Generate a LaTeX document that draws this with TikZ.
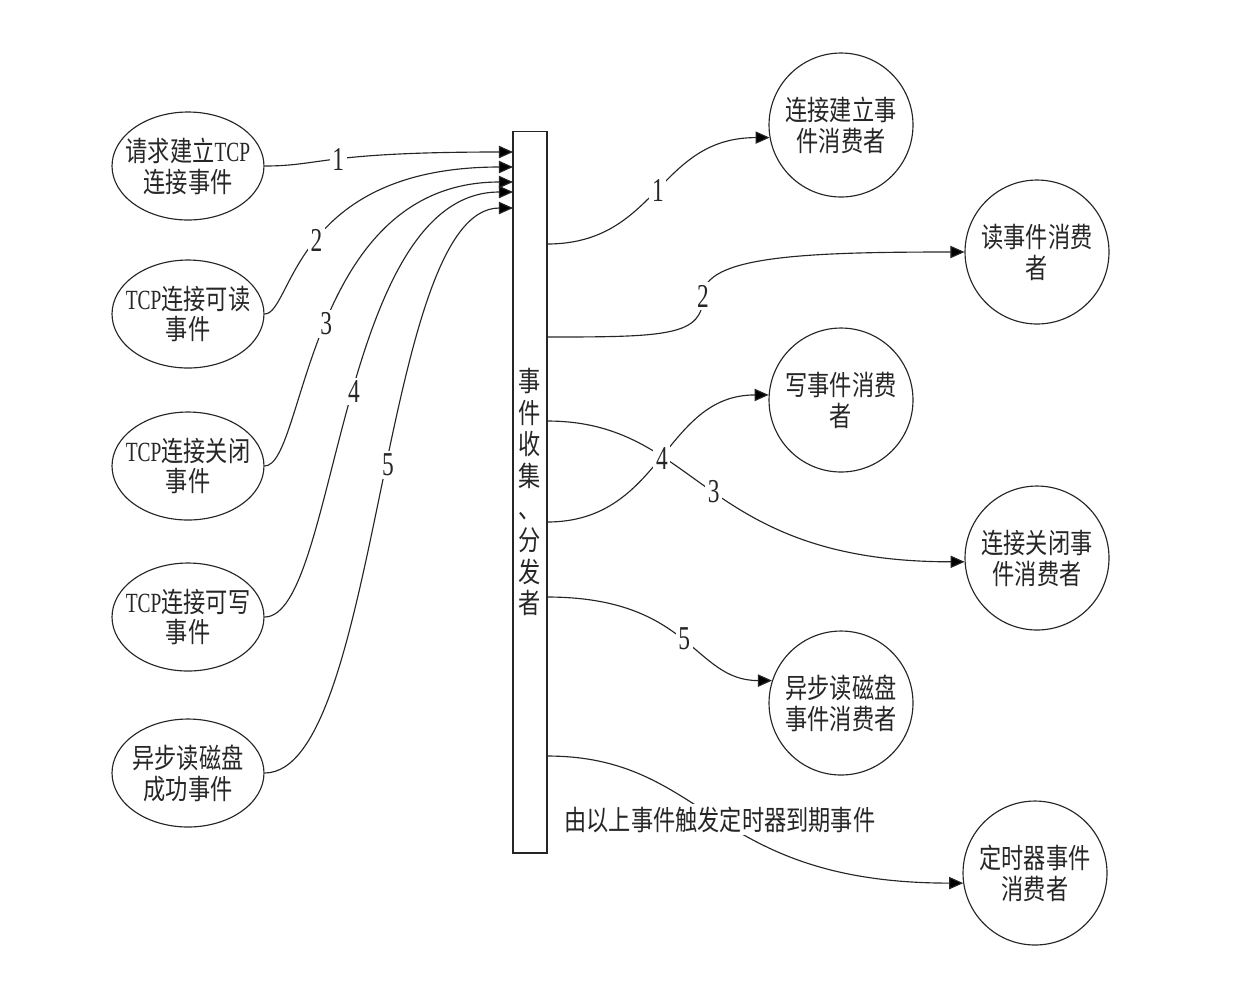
\documentclass[tikz,border=0pt]{standalone}
\usepackage{fontspec}
\setmainfont[FakeStretch=0.7]{Liberation Serif}
\newfontfamily\cjk[FakeStretch=0.8]{Noto Sans CJK SC}
\usetikzlibrary{arrows.meta,shapes.geometric}

\begin{document}
\begin{tikzpicture}[x=0.02cm,y=-0.02cm,
  ink/.style={draw=black!85, line width=0.65pt},
  evt/.style={ink, ellipse, minimum width=3.04cm, minimum height=2.16cm, inner sep=0pt},
  consumer/.style={ink, ellipse, minimum width=2.88cm, minimum height=2.88cm, inner sep=0pt},
  txt/.style={align=center, text=black!85, inner sep=0pt,
    font=\cjk\fontsize{15.8pt}{17.6pt}\selectfont},
  vtxt/.style={align=center, text=black!85, inner sep=0pt,
    font=\cjk\fontsize{15.8pt}{18.1pt}\selectfont},
  num/.style={fill=white, inner sep=1.5pt, text=black!85,
    font=\fontsize{19pt}{21pt}\selectfont},
  note/.style={fill=white, inner sep=1.5pt, text=black!85,
    font=\cjk\fontsize{15.8pt}{17.6pt}\selectfont},
  flow/.style={ink, -{Triangle[length=8pt,width=7pt,fill=black]}},
  link/.style={ink}
]
\useasboundingbox (0,0) rectangle (1246,992);

% event sources
\node[evt, label={[txt]center:请求建立{\rmfamily TCP}\\连接事件}] (E1) at (188,166) {};
\node[evt, label={[txt]center:{\rmfamily TCP}连接可读\\事件}] (E2) at (188,314) {};
\node[evt, label={[txt]center:{\rmfamily TCP}连接关闭\\事件}] (E3) at (188,466) {};
\node[evt, label={[txt]center:{\rmfamily TCP}连接可写\\事件}] (E4) at (188,617) {};
\node[evt, label={[txt]center:异步读磁盘\\成功事件}] (E5) at (188,773) {};

% collector / dispatcher bar
\node[ink, rectangle, minimum width=0.68cm, minimum height=14.44cm, inner sep=0pt,
  label={[vtxt]center:事\\件\\收\\集\\、\\分\\发\\者}] (box) at (530,492) {};

% consumers
\node[consumer, label={[txt]center:连接建立事\\件消费者}] (R1) at (841,125) {};
\node[consumer, label={[txt]center:读事件消费\\者}] (R2) at (1037,252) {};
\node[consumer, label={[txt]center:写事件消费\\者}] (R3) at (841,400) {};
\node[consumer, label={[txt]center:连接关闭事\\件消费者}] (R4) at (1037,558) {};
\node[consumer, label={[txt]center:异步读磁盘\\事件消费者}] (R5) at (841,703) {};
\node[consumer, label={[txt]center:定时器事件\\消费者}] (R6) at (1035,873) {};

% ports on the bar
\coordinate (in1) at (513,152);
\coordinate (in2) at (513,167);
\coordinate (in3) at (513,182);
\coordinate (in4) at (513,192);
\coordinate (in5) at (513,208);
\coordinate (out1) at (547,244);
\coordinate (out2) at (547,337);
\coordinate (out3) at (547,421);
\coordinate (out4) at (547,522);
\coordinate (out5) at (547,597);
\coordinate (out6) at (547,756);
\coordinate (bend2) at (703,296);

% incoming events
\draw[flow] (E1.east) .. controls +(57,0) and +(-192,0) .. (in1) node[num,pos=0.5]{1};
\draw[flow] (E2.east) .. controls +(28,0) and +(-221,0) .. (in2) node[num,pos=0.5]{2};
\draw[flow] (E3.east) .. controls +(41,0) and +(-208,0) .. (in3) node[num,pos=0.5]{3};
\draw[flow] (E4.east) .. controls +(73,0) and +(-176,0) .. (in4) node[num,pos=0.52]{4};
\draw[flow] (E5.east) .. controls +(116,0) and +(-133,0) .. (in5) node[num,pos=0.53]{5};

% dispatched events
\draw[flow] (out1) .. controls +(111,0) and +(-112,0) .. (R1.190) node[num,pos=0.5]{1};
\draw[flow] (out2) .. controls +(120,0) and +(0,40) .. (bend2)
  .. controls +(0,-40) and +(-160,0) .. (R2.west);
\node[num] (n2) at (bend2) {2};
\draw[flow] (out3) .. controls +(153,0) and +(-265,0) .. (R4.183) node[num,pos=0.5]{3};
\draw[flow] (out4) .. controls +(116,0) and +(-105,0) .. (R3.176) node[num,pos=0.5]{4};
\draw[flow] (out5) .. controls +(145,0) and +(-79,0) .. (R5.162) node[num,pos=0.5]{5};
\draw[flow] (out6) .. controls +(161,0) and +(-255,0) .. (R6.188)
  node[note,pos=0.5]{由以上事件触发定时器到期事件};
\end{tikzpicture}
\end{document}
